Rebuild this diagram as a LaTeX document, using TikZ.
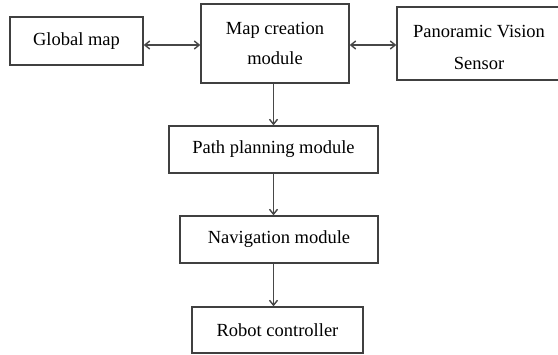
\documentclass[tikz,border=0pt]{standalone}
\usepackage{fontspec}
\setmainfont{Liberation Serif}
\usetikzlibrary{arrows.meta}
\begin{document}
\begin{tikzpicture}[x=1pt,y=1pt,
  >={Straight Barb[length=5pt,width=8pt,line width=1.4pt]},
  block/.style={draw=black!75, line width=1.3pt, minimum height=#1, inner sep=0pt,
    align=center, font=\fontsize{18.5}{30}\selectfont},
  caption/.style={inner sep=0pt, align=center, font=\fontsize{18.5}{32}\selectfont},
  link/.style={draw=black!72, line width=1.2pt, ->},
  biLink/.style={draw=black!72, line width=1.2pt, <->}]
\useasboundingbox (0,0) rectangle (558,355);
\clip (0,0) rectangle (558,355);
% top row
\node[block=48pt, minimum width=133pt] (global) at (76.5,314) {Global map};
\node[block=79pt, minimum width=148pt] (map) at (275,311.5) {Map creation\\module};
\node[block=73pt, minimum width=164pt] (pano) at (479,311.5) {};
\node[caption] (panoText) at ([yshift=-4pt]pano.center) {Panoramic Vision\\Sensor};
\coordinate (row) at (0,310);
% processing chain
\node[block=47pt, minimum width=209pt] (path) at (273.5,205.5) {Path planning module};
\node[block=47pt, minimum width=198pt] (nav) at (279,115.5) {Navigation module};
\node[block=46pt, minimum width=171pt] (robot) at (277.5,25) {Robot controller};
% connectors
\draw[biLink] (global.east |- row) -- (map.west |- row);
\draw[biLink] (map.east |- row) -- (pano.west |- row);
\draw[link] (map.south -| path.north) -- (path.north);
\draw[link] (path.south) -- (path.south |- nav.north);
\draw[link] (nav.south -| path.south) -- (robot.north -| path.south);
\end{tikzpicture}
\end{document}
